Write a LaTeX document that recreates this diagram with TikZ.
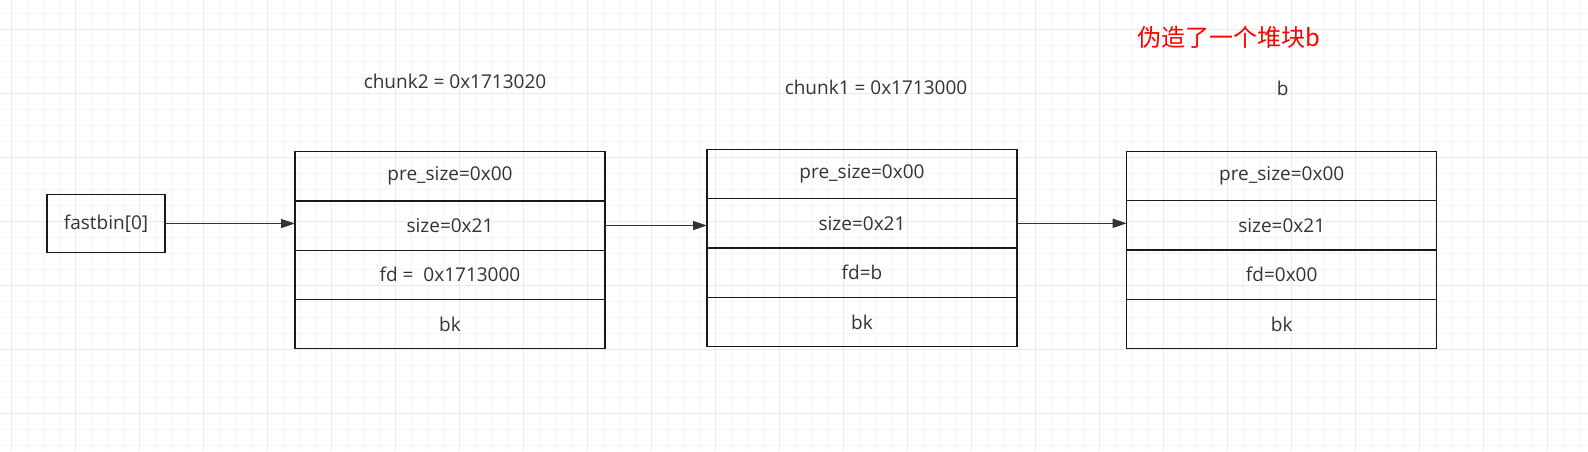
\documentclass[tikz,border=0pt]{standalone}
\usepackage{fontspec}
\setmainfont{Open Sans}
\newfontfamily\cjk{Noto Sans CJK SC}
\usetikzlibrary{positioning,arrows.meta}
\definecolor{gridminor}{HTML}{F4F4F4}
\definecolor{gridmajor}{HTML}{EAEAEA}
\definecolor{ink}{HTML}{333333}
\tikzset{
  field/.style={draw=black!90,line width=1.3pt,minimum width=310pt,minimum height=49.3pt,
    inner sep=0pt,outer sep=0pt,text=ink,font=\fontsize{19}{22}\selectfont},
  caption/.style={text=ink,font=\fontsize{19}{22}\selectfont},
  ptr/.style={-{Triangle[length=14pt,width=9pt]},line width=1.2pt,draw=ink}
}
\begin{document}
\begin{tikzpicture}[x=1pt,y=-1pt]
\fill[white](0,0)rectangle(1588,451);
\useasboundingbox(0,0)rectangle(1588,451);
\foreach \x in {11.3,27.3,...,1588} \draw[gridminor,line width=1pt](\x,0)--(\x,451);
\foreach \y in {13.3,29.3,...,451} \draw[gridminor,line width=1pt](0,\y)--(1588,\y);
\foreach \x in {11.3,75.3,...,1588} \draw[gridmajor,line width=1.2pt](\x,0)--(\x,451);
\foreach \y in {29.3,93.3,...,451} \draw[gridmajor,line width=1.2pt](0,\y)--(1588,\y);

\node[field,minimum width=118pt,minimum height=58pt] (fastbin) at (106,223.5) {fastbin[0]};

\node[field] (c2pre) at (450,176.2) {pre\_size=0x00};
\node[field,below=0pt of c2pre] (c2size) {size=0x21};
\node[field,below=0pt of c2size] (c2fd) {fd =\ \ 0x1713000};
\node[field,below=0pt of c2fd] (c2bk) {bk};

\node[field] (c1pre) at (862,174) {pre\_size=0x00};
\node[field,below=0pt of c1pre] (c1size) {size=0x21};
\node[field,below=0pt of c1size] (c1fd) {fd=b};
\node[field,below=0pt of c1fd] (c1bk) {bk};

\node[field] (bpre) at (1281.7,176) {pre\_size=0x00};
\node[field,below=0pt of bpre] (bsize) {size=0x21};
\node[field,below=0pt of bsize] (bfd) {fd=0x00};
\node[field,below=0pt of bfd] (bbk) {bk};

\node[caption] (c2name) at (455,81) {chunk2 = 0x1713020};
\node[caption] (c1name) at (876,87) {chunk1 = 0x1713000};
\node[caption] (bname) at (1282.7,88) {b};
\node[text=red,font=\cjk\fontsize{24}{27}\selectfont] (fake) at (1229,37.5) {伪造了一个堆块b};

\draw[ptr](fastbin.east)--(fastbin.east-|c2size.west);
\draw[ptr](c2size.east)--(c2size.east-|c1size.west);
\draw[ptr](c1size.east)--(c1size.east-|bsize.west);
\end{tikzpicture}
\end{document}
